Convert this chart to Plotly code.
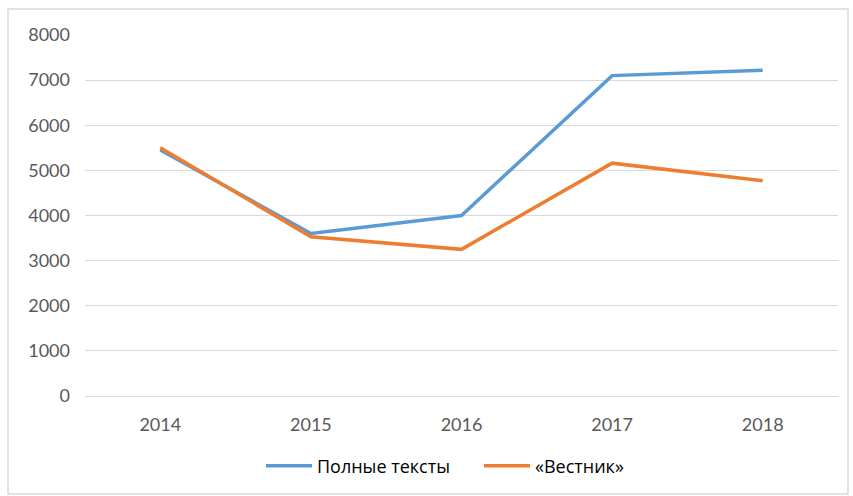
import plotly.graph_objects as go

years = ["2014", "2015", "2016", "2017", "2018"]
full_texts = [5450, 3600, 4000, 7100, 7220]
vestnik = [5500, 3530, 3250, 5160, 4770]
series_names = ["Полные тексты", "«Вестник»"]
y_ticks = [0, 1000, 2000, 3000, 4000, 5000, 6000, 7000, 8000]

fig = go.Figure()
fig.add_trace(go.Scatter(x=years, y=full_texts, mode="lines", name=series_names[0],
                         line=dict(color="#5B9BD5", width=3.5)))
fig.add_trace(go.Scatter(x=years, y=vestnik, mode="lines", name=series_names[1],
                         line=dict(color="#ED7D31", width=3.5)))

L, R, T, B = 85, 15, 35, 100
W, H = 853, 496
pw, ph = W - L - R, H - T - B

fig.update_layout(
    width=W, height=H,
    margin=dict(l=L, r=R, t=T, b=B, autoexpand=False),
    paper_bgcolor="white", plot_bgcolor="white",
    font=dict(family="Lato, Open Sans, sans-serif", size=18, color="#595959"),
    showlegend=True,
    legend=dict(orientation="h", x=(261 - L) / pw, xanchor="left",
                y=(H - B - 466) / ph, yanchor="middle",
                font=dict(size=18, color="#000000", family="Open Sans, sans-serif"),
                itemwidth=46, entrywidth=157, entrywidthmode="pixels",
                traceorder="normal"),
    xaxis=dict(type="category", range=[-0.5, 4.5], showgrid=False, showline=False,
               zeroline=False, ticks="", ticklabelstandoff=16),
    yaxis=dict(range=[0, 8000], tickvals=y_ticks, showgrid=True, gridcolor="#D9D9D9",
               gridwidth=1, zeroline=True, zerolinecolor="#D9D9D9", zerolinewidth=1,
               showline=False, ticks="", ticklabelstandoff=14),
    shapes=[dict(type="rect", xref="paper", yref="paper",
                 x0=(8 - L) / pw, x1=(848 - L) / pw,
                 y0=(H - B - 494) / ph, y1=1 + (T - 9) / ph,
                 line=dict(color="#D9D9D9", width=1.5), layer="below")],
)

fig.write_html("out.html", config={"displayModeBar": False},
               post_script="document.body.style.margin='0';document.body.style.overflow='hidden';")
